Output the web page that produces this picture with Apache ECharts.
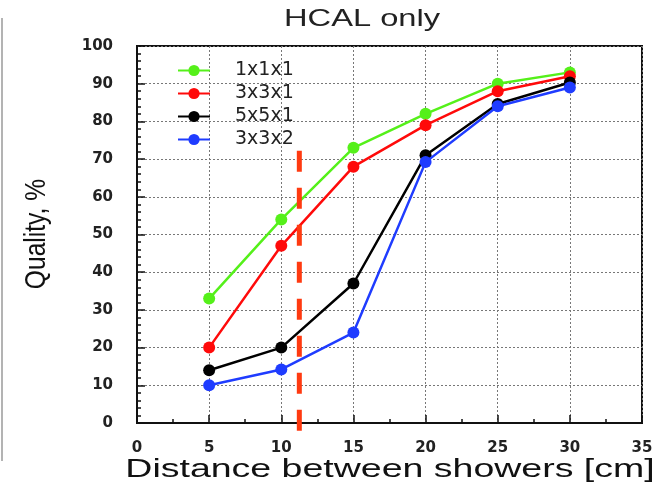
<!DOCTYPE html>
<html>
<head>
<meta charset="utf-8">
<script src="https://cdn.jsdelivr.net/npm/echarts@6/dist/echarts.min.js"></script>
<style>
  html, body { margin: 0; padding: 0; background: #fff; }
  #chart { width: 670px; height: 487px; }
</style>
</head>
<body>
<div id="chart"></div>
<script>
// Shower separation in cm
const distances = [5, 10, 15, 20, 25, 30];

// Reconstruction quality (%) per cell granularity
const seriesNames = ['1x1x1', '3x3x1', '5x5x1', '3x3x2'];
const quality1x1x1 = [33, 54, 73, 82, 90, 93];
const quality3x3x1 = [20, 47, 68, 79, 88, 92];
const quality5x5x1 = [14, 20, 37, 71, 84.6, 90.3];
const quality3x3x2 = [10, 14.2, 24, 69.2, 84, 89];
const seriesColors = ['#55f01a', '#ff0a0a', '#000000', '#1f3cff'];

// Vertical marker at the cell size boundary
const markerX = 11.25;
const markerY = [72.2, -2.7];

const xTicks = { min: 0, max: 35, interval: 5 };
const yTicks = { min: 0, max: 100, interval: 10 };

const titleText = 'HCAL only';
const xName = 'Distance between showers [cm]';
const yName = 'Quality, %';

const allValues = [quality1x1x1, quality3x3x1, quality5x5x1, quality3x3x2];

const chart = echarts.init(document.getElementById('chart'), null, { renderer: 'canvas' });

const tickFont = { fontFamily: 'DejaVu Sans', fontSize: 15, fontWeight: 'bold', color: '#222' };

const lineSeries = seriesNames.map((name, i) => ({
  name,
  type: 'line',
  data: distances.map((d, j) => [d, allValues[i][j]]),
  symbol: 'circle',
  symbolSize: 12,
  color: seriesColors[i],
  lineStyle: { width: 2.5, color: seriesColors[i] },
  itemStyle: { color: seriesColors[i] },
  z: 3 + i
}));

const markerSeries = {
  name: 'marker',
  type: 'line',
  data: markerY.map(v => [markerX, v]),
  symbol: 'none',
  clip: false,
  silent: true,
  lineStyle: { width: 5, color: '#ff3a10', type: [21, 16] },
  z: 10
};

chart.setOption({
  animation: false,
  backgroundColor: '#ffffff',
  grid: {
    left: 137, right: 28, top: 46, bottom: 64,
    show: true, borderColor: '#111', borderWidth: 2, backgroundColor: 'transparent'
  },
  legend: {
    data: seriesNames,
    orient: 'vertical',
    left: 172, top: 56,
    itemWidth: 32, itemHeight: 14, itemGap: 4,
    textStyle: { fontFamily: 'DejaVu Sans', fontSize: 19, color: '#222', padding: [0, 0, 0, 20] }
  },
  xAxis: {
    type: 'value',
    min: xTicks.min, max: xTicks.max, interval: xTicks.interval,
    axisLine: { show: true, onZero: false, lineStyle: { color: '#111', width: 2 } },
    axisTick: { show: true, inside: true, length: 8, lineStyle: { color: '#111', width: 1.5 } },
    minorTick: { show: true, splitNumber: 2, length: 4, lineStyle: { color: '#111', width: 1.5 } },
    axisLabel: Object.assign({ margin: 18 }, tickFont),
    splitLine: { show: true, lineStyle: { color: '#777', width: 1, type: [2, 2] } }
  },
  yAxis: {
    type: 'value',
    min: yTicks.min, max: yTicks.max, interval: yTicks.interval,
    axisLine: { show: true, onZero: false, lineStyle: { color: '#111', width: 2 } },
    axisTick: { show: true, inside: true, length: 8, lineStyle: { color: '#111', width: 1.5 } },
    minorTick: { show: true, splitNumber: 5, length: 4, lineStyle: { color: '#111', width: 1.5 } },
    axisLabel: Object.assign({ margin: 24 }, tickFont),
    splitLine: { show: true, lineStyle: { color: '#777', width: 1, type: [2, 2] } }
  },
  series: lineSeries.concat([markerSeries]),
  graphic: [
    {
      type: 'line',
      shape: { x1: 2, y1: 18, x2: 2, y2: 461 },
      style: { stroke: '#9a9a9a', lineWidth: 1.5 },
      silent: true
    },
    {
      type: 'text',
      x: 362, y: 19,
      scaleX: 1.36,
      style: { text: titleText, font: '24px "Liberation Sans", Arial, sans-serif', fill: '#222', align: 'center', verticalAlign: 'middle' },
      silent: true
    },
    {
      type: 'text',
      x: 390, y: 470,
      scaleX: 1.5,
      style: { text: xName, font: '25px "Liberation Sans", Arial, sans-serif', fill: '#111', align: 'center', verticalAlign: 'middle' },
      silent: true
    },
    {
      type: 'text',
      x: 37, y: 234,
      rotation: Math.PI / 2,
      scaleX: 0.82,
      style: { text: yName, font: '30px "Liberation Sans", Arial, sans-serif', fill: '#111', align: 'center', verticalAlign: 'middle' },
      silent: true
    }
  ]
});
</script>
</body>
</html>
